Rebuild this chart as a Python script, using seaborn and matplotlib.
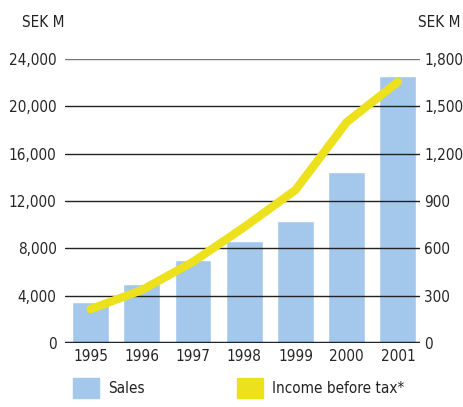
import matplotlib
matplotlib.use('Agg')
import matplotlib.pyplot as plt
from matplotlib.patches import Patch
import seaborn as sns
import pandas as pd

# Dados
anos = ['1995', '1996', '1997', '1998', '1999', '2000', '2001']
vendas = [3450, 5000, 7000, 8600, 10300, 14450, 22550]
resultado = [215, 336, 515, 735, 970, 1400, 1655]
ticks_esq = [0, 4000, 8000, 12000, 16000, 20000, 24000]
ticks_dir = [0, 300, 600, 900, 1200, 1500, 1800]

dados = pd.DataFrame({'Ano': anos, 'Sales': vendas, 'Income': resultado})
dados['pos'] = range(len(anos))

sns.set_style('white')
plt.rcParams['font.family'] = ['DejaVu Sans']
plt.rcParams['font.stretch'] = 'condensed'
plt.rcParams['text.color'] = '#222222'

azul = '#a3c8eb'
amarelo = '#ece11c'
fs = 11

fig = plt.figure(figsize=(4.64, 4.07), dpi=100)
ax = fig.add_axes([0.140, 0.157, 0.765, 0.698])

sns.barplot(data=dados, x='Ano', y='Sales', color=azul, width=0.72,
            saturation=1, ax=ax, zorder=1)
ax.set_xlim(-0.5, 6.43)
ax.set_ylim(0, 24000)
ax.set_xlabel('')
ax.set_ylabel('')
for s in ax.spines.values():
    s.set_visible(False)

# Linhas de grade por cima das barras
for v in ticks_esq[1:]:
    cor = '#777777' if v == 24000 else '#222222'
    ax.axhline(v, color=cor, lw=1, zorder=2)
ax.axhline(0, color='#1a2535', lw=2.5, zorder=3)

ax.set_yticks(ticks_esq)
ax.set_yticklabels([f'{v:,}' for v in ticks_esq], fontsize=fs)
ax.tick_params(axis='y', length=0, pad=6)
ax.tick_params(axis='x', length=0, pad=4, labelsize=fs)

# Eixo direito: resultado antes de impostos
ax2 = ax.twinx()
sns.lineplot(data=dados, x='pos', y='Income', color=amarelo, lw=6,
             solid_capstyle='round', ax=ax2, zorder=4)
ax2.set_ylim(0, 1800)
ax2.set_xlim(-0.5, 6.43)
ax2.set_yticks(ticks_dir)
ax2.set_yticklabels([f'{v:,}' for v in ticks_dir], fontsize=fs)
ax2.tick_params(axis='y', length=0, pad=3)
ax2.set_xlabel('')
ax2.set_ylabel('')
for s in ax2.spines.values():
    s.set_visible(False)

fig.text(0.047, 0.945, 'SEK M', fontsize=fs, va='center')
fig.text(0.992, 0.945, 'SEK M', fontsize=fs, va='center', ha='right')

handles = [Patch(color=azul), Patch(color=amarelo)]
fig.legend(handles, ['Sales', 'Income before tax*'], ncol=2, frameon=False,
           loc='lower left', bbox_to_anchor=(0.128, -0.012),
           handlelength=1.7, handleheight=1.7, handletextpad=0.6,
           columnspacing=6.0, fontsize=fs)

plt.savefig('out.png', dpi=100)
